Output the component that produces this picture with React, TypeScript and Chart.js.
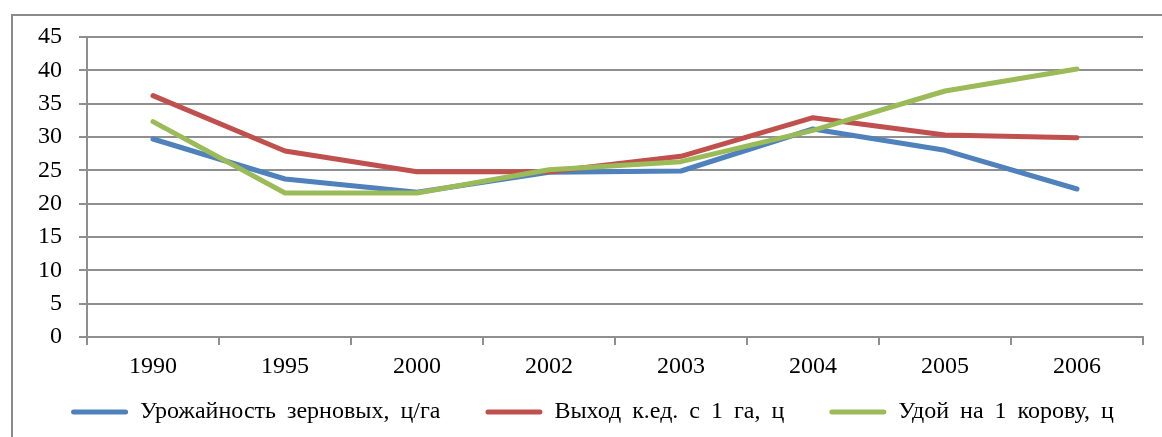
import React, { useEffect, useRef } from 'react';
import { Chart, registerables } from 'chart.js';

Chart.register(...registerables);

const categories = ['1990', '1995', '2000', '2002', '2003', '2004', '2005', '2006'];
const grainYield = [29.7, 23.7, 21.7, 24.7, 24.9, 31.2, 28.0, 22.2];
const unitOutput = [36.2, 27.9, 24.8, 24.8, 27.1, 32.9, 30.3, 29.9];
const milkYield = [32.3, 21.6, 21.6, 25.1, 26.3, 31.0, 36.9, 40.2];
const seriesNames = ['Урожайность зерновых, ц/га', 'Выход к.ед. с 1 га, ц', 'Удой на 1 корову, ц'];
const seriesColors = ['#4F81BD', '#C0504D', '#9BBB59'];
const yMin = 0;
const yMax = 45;
const yStep = 5;

const W = 1162;
const H = 437;
const gridColor = '#8f8f8f';
const LEGEND_PAD = 45;
const LEGEND_CENTER_Y = 412;
const LEGEND_SHIFT_X = 21;

const legendPlacement = {
  id: 'legendPlacement',
  beforeUpdate(chart: any) {
    chart.ctx.wordSpacing = '5px';
  },
  afterLayout(chart: any) {
    const lg = chart.legend;
    if (!lg) return;
    const size = lg.options.labels.font.size;
    const h = lg.height;
    lg.top = LEGEND_CENTER_Y - LEGEND_PAD - size / 2;
    lg.bottom = lg.top + h;
    lg.left += LEGEND_SHIFT_X;
    lg.right += LEGEND_SHIFT_X;
  },
};

export default function App() {
  const ref = useRef<HTMLCanvasElement>(null);

  useEffect(() => {
    const font = { family: "'Liberation Serif', 'Times New Roman', serif", size: 24 };
    const chart = new Chart(ref.current as HTMLCanvasElement, {
      type: 'line',
      data: {
        labels: categories,
        datasets: [
          { label: seriesNames[0], data: grainYield, borderColor: seriesColors[0], backgroundColor: seriesColors[0], order: 2 },
          { label: seriesNames[1], data: unitOutput, borderColor: seriesColors[1], backgroundColor: seriesColors[1], order: 1 },
          { label: seriesNames[2], data: milkYield, borderColor: seriesColors[2], backgroundColor: seriesColors[2], order: 0 },
        ],
      },
      options: {
        animation: false,
        responsive: false,
        maintainAspectRatio: false,
        events: [],
        layout: { padding: { left: 0, top: 37, right: 19, bottom: 437 - (24 + LEGEND_PAD + 10) - 44 - 337 } },
        elements: {
          line: { borderWidth: 5, tension: 0, borderCapStyle: 'round', borderJoinStyle: 'round', fill: false },
          point: { radius: 0, hoverRadius: 0 },
        },
        scales: {
          x: {
            offset: true,
            grid: { offset: true, drawOnChartArea: false, drawTicks: true, tickLength: 8, color: gridColor, lineWidth: 2 },
            border: { color: gridColor, width: 2 },
            ticks: { font, color: '#000', padding: 7, maxRotation: 0, autoSkip: false },
            afterFit: (s: any) => { s.height = 44; },
          },
          y: {
            min: yMin,
            max: yMax,
            ticks: { stepSize: yStep, font, color: '#000', padding: 17, autoSkip: false },
            grid: { color: gridColor, lineWidth: 2, tickLength: 8 },
            border: { color: gridColor, width: 2 },
            afterFit: (s: any) => { s.width = 87; },
          },
        },
        plugins: {
          legend: {
            position: 'bottom',
            labels: {
              font,
              color: '#000',
              boxWidth: 57,
              boxHeight: 5,
              padding: LEGEND_PAD,
              useBorderRadius: true,
              borderRadius: 2.5,
              sort: (a: any, b: any) => a.datasetIndex - b.datasetIndex,
              generateLabels: (c: any) =>
                (Chart.defaults.plugins.legend.labels.generateLabels as any)(c).map((l: any) => ({ ...l, lineWidth: 0 })),
            },
          },
          tooltip: { enabled: false },
        },
      } as any,
      plugins: [legendPlacement],
    });
    return () => chart.destroy();
  }, []);

  return (
    <div style={{ position: 'absolute', left: 0, top: 0, width: W, height: H, overflow: 'hidden', background: '#fff' }}>
      <div
        style={{
          position: 'absolute',
          left: 11,
          top: 14,
          width: W,
          height: H,
          borderLeft: '2px solid #8a8a8a',
          borderTop: '2px solid #8a8a8a',
        }}
      />
      <canvas ref={ref} width={W} height={H} style={{ position: 'absolute', left: 0, top: 0, display: 'block' }} />
    </div>
  );
}
